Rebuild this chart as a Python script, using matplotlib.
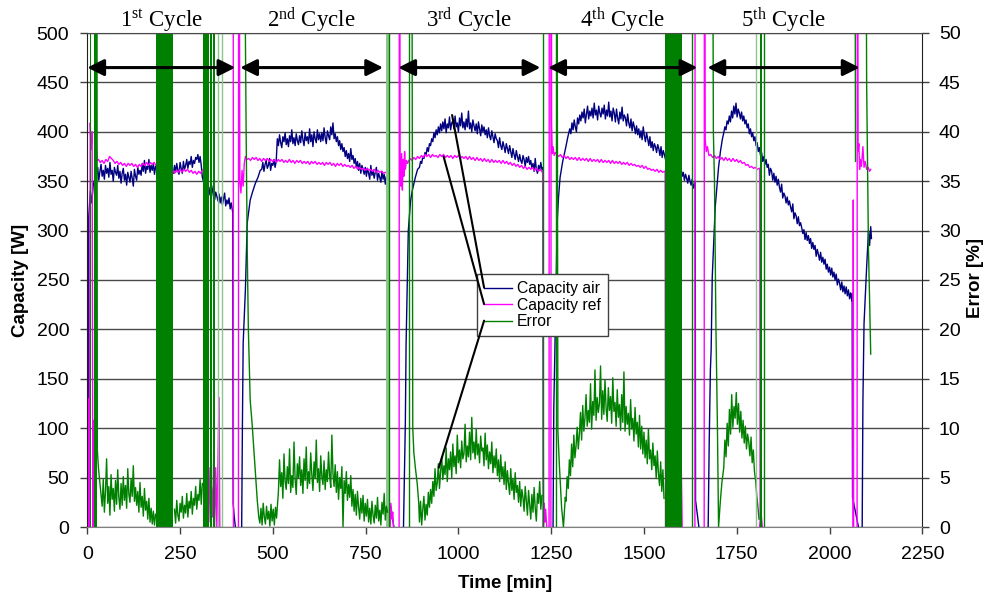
import numpy as np
import matplotlib
matplotlib.use("Agg")
import matplotlib.pyplot as plt

plt.rcParams['font.family'] = ['Liberation Sans', 'DejaVu Sans']
plt.rcParams['mathtext.fontset'] = 'custom'
plt.rcParams['mathtext.rm'] = 'Liberation Serif'
plt.rcParams['mathtext.it'] = 'Liberation Serif:italic'

# ---------------------------------------------------------------- data
# Capacity air [W]: transitions as explicit (time, value) samples,
# steady parts as values logged evenly between a start and end time.
air_t0 = [0, 2, 4, 8, 12, 16, 20]
air_v0 = [0, 55, 314, 340, 328, 346, 352]
air_c1 = [356, 364, 351, 360, 367, 355, 361, 352, 366, 358,
          363, 354, 369, 357, 361, 350, 364, 359, 356, 366,
          353, 360, 348, 358, 363, 351, 357, 346, 359, 354,
          349, 360, 353, 345, 362, 355, 351, 364, 357, 361,
          356, 368, 360, 371, 358, 365, 362, 372, 359, 366,
          361, 368, 357, 365, 362, 370, 358, 364, 367, 360,
          365, 357, 363, 368, 356, 362, 366, 355, 361, 358,
          366, 359, 368, 361, 357, 369, 363, 358, 370, 362,
          366, 372, 363, 370, 367, 375, 364, 371, 368, 374,
          372, 377, 369, 375, 366, 354, 350, 356, 345, 351,
          342, 336, 344, 333, 340, 346, 331, 339, 335, 330,
          337, 328, 334, 326, 332, 338, 325, 331, 327, 333,
          322, 328, 320]
air_t1 = [392, 393, 396, 399]
air_v1 = [318, 24, 10, 0]
air_t2 = [416, 418, 420, 426, 431, 439, 446, 453, 460, 466]
air_v2 = [0, 105, 186, 240, 308, 331, 340, 348, 354, 361]
air_c2 = [362, 369, 360, 367, 371, 363, 366, 373, 361, 368,
          366, 372, 364, 370,
          393, 386, 397, 389, 384, 395, 390, 399, 387, 393,
          385, 396, 390, 402, 388, 394, 386, 398, 391, 387,
          396, 389, 401, 392, 386, 399, 391, 395, 388, 403,
          390, 397, 385, 400, 393, 389, 402, 392, 398, 390,
          399, 391, 404, 394, 388, 401, 396, 392, 405, 397,
          409, 393, 398, 390, 395, 386, 391, 382, 388, 380,
          384, 375, 381, 373, 378, 370, 383, 372, 376, 368,
          373, 364, 370, 361, 368, 358, 366, 362, 357, 364,
          355, 363, 358, 352, 366, 356, 361, 353, 359, 364,
          351, 358, 354, 349, 360, 352, 357, 347, 355, 351]
air_t3 = [812, 813, 818, 823, 826]
air_v3 = [350, 24, 20, 8, 0]
air_t4 = [852, 854, 857, 859, 865, 871, 876, 884, 890]
air_v4 = [0, 44, 105, 185, 300, 330, 341, 354, 362]
air_c3 = [364, 370, 368, 375, 373, 379, 377, 384, 380, 388,
          386, 393, 390, 399, 394, 402, 397, 405, 399, 408,
          401, 410, 403, 413, 399, 408, 404, 415, 402, 409,
          411, 403, 416, 405, 409, 400, 414, 406, 419, 404,
          410, 402, 413, 405, 421, 403, 409, 400, 412, 406,
          401, 408, 398, 410, 403, 396, 407, 400, 405, 397,
          402, 394, 404, 396, 392, 401, 395, 389, 398, 393,
          391, 384, 394, 386, 382, 390, 385, 379, 388, 383,
          378, 386, 380, 374, 383, 377, 372, 381, 375, 370,
          377, 371, 368, 376, 372, 365, 374, 369, 375, 367,
          371, 363, 368, 360, 373, 362, 358, 366, 361, 369, 362]
air_t5 = [1228, 1229]
air_v5 = [364, 0]
air_t6 = [1255, 1257, 1260, 1264, 1266, 1270, 1274, 1281, 1288, 1295]
air_v6 = [0, 120, 179, 260, 308, 335, 354, 370, 382, 395]
air_c4 = [403, 398, 409, 402, 412, 405, 400, 414, 408, 417,
          411, 420, 414, 423, 409, 418, 426, 413, 421, 416,
          424, 414, 429, 417, 422, 412, 426, 419, 415, 424,
          418, 427, 413, 422, 416, 430, 415, 421, 411, 424,
          419, 410, 423, 414, 408, 420, 413, 425, 411, 417,
          414, 406, 418, 409, 404, 413, 401, 410, 405, 398,
          406, 397, 403, 394, 401, 392, 405, 396, 390, 399,
          393, 386, 395, 384, 390, 381, 388, 385, 379, 387,
          383, 376, 385, 374, 381, 377, 372, 380, 375, 369,
          374, 366, 371, 363, 369, 365, 360, 367, 362, 358,
          363, 355, 359, 351, 357, 353, 348, 356, 350, 346,
          352, 343]
air_t7 = [1638, 1639, 1644, 1648]
air_v7 = [350, 27, 12, 0]
air_t8 = [1673, 1676, 1679, 1681, 1684, 1692, 1701, 1706, 1711]
air_v8 = [0, 91, 159, 179, 253, 324, 364, 380, 392]
air_c5 = [399, 405, 402, 411, 408, 416, 410, 421, 414, 426,
          418, 429, 415, 423, 419, 413, 420, 411, 416, 408,
          412, 404, 408, 398, 403, 395, 399, 391, 395, 386,
          389, 380, 384, 376, 379, 370, 375, 367, 372, 364,
          367, 356, 363, 360, 351, 358, 349, 355, 346, 352,
          344, 339, 347, 333, 338, 335, 328, 334, 326, 330,
          324, 319, 327, 312, 318, 315, 307, 314, 305, 308,
          303, 297, 301, 291, 298, 290, 295, 287, 292, 282,
          288, 281, 285, 274, 281, 276, 270, 278, 268, 273,
          266, 271, 261, 266, 258, 263, 255, 262, 253, 258,
          250, 256, 245, 251, 247, 240, 248, 238, 244, 236,
          243, 234, 240, 231, 237, 229]
air_t9 = [2061, 2062, 2070, 2078]
air_v9 = [236, 30, 15, 0]
air_t10 = [2088, 2090, 2093, 2100, 2105, 2108, 2111, 2113]
air_v10 = [0, 128, 206, 263, 300, 285, 304, 292]

# Capacity ref [W]
ref_t0 = [0, 3, 5, 8, 10, 13, 15, 18, 21, 24, 27]
ref_v0 = [0, 130, 0, 409, 382, 400, 0, 108, 0, 385, 371]
ref_c1 = [372, 369, 371, 368, 372, 370, 375, 373, 371, 368, 370, 367, 369, 366, 368,
          365, 368, 366, 368, 365, 367, 364, 367, 365, 368, 366, 369, 366, 369, 367,
          369, 366, 367, 364, 365, 362, 363, 360, 362, 359, 361, 358, 361, 359, 362,
          359, 362, 360, 362, 359, 361, 358, 360, 357, 360, 358, 361, 363, 366]
ref_t1 = [323, 325, 328, 331, 334, 337, 340, 343, 346, 349, 353, 355, 357]
ref_v1 = [364, 0, 60, 5, 80, 10, 40, 0, 60, 0, 90, 131, 0]
ref_t2 = [393, 394]
ref_v2 = [900, -300]
ref_t3 = [407, 408, 411, 414, 417, 420, 423, 426, 430]
ref_v3 = [-300, 900, 350, 338, 361, 345, 368, 375, 372]
ref_c2 = [373, 371, 374, 372, 374, 371, 373, 370, 373, 371, 373, 370, 372, 370, 372,
          369, 372, 370, 372, 369, 371, 369, 372, 369, 371, 368, 371, 369, 371, 368,
          370, 368, 370, 367, 370, 368, 370, 367, 369, 367, 369, 366, 369, 367, 369,
          366, 368, 365, 368, 366, 368, 365, 367, 365, 366, 364, 366, 363, 365, 362,
          364, 362, 363, 361, 363, 361, 362, 360, 362, 359, 361, 359, 360, 358, 359, 358]
ref_t4 = [810, 812, 814]
ref_v4 = [358, -300, 900]
ref_t5 = [816, 818, 821, 823, 825]
ref_v5 = [0, 24, 8, 15, 0]
ref_t6 = [840, 841, 843, 845, 847, 849, 851, 853, 855, 857, 860, 863]
ref_v6 = [-300, 900, 360, 345, 378, 341, 372, 355, 380, 362, 371, 368]
ref_c3 = [370, 373, 371, 374, 372, 375, 373, 376, 374, 377, 375, 377, 374, 377, 375,
          376, 374, 377, 375, 377, 374, 376, 374, 376, 373, 376, 374, 376, 373, 375,
          373, 375, 372, 375, 372, 374, 371, 374, 371, 373, 370, 373, 370, 372, 369,
          372, 369, 371, 369, 371, 368, 371, 368, 370, 367, 369, 366, 368, 365, 367,
          364, 366, 363, 365, 362, 364, 362, 364, 361, 363, 360, 362, 360]
ref_t7 = [1227, 1228, 1229, 1231, 1233, 1235, 1238]
ref_v7 = [358, 331, 0, 24, 5, 18, 0]
ref_t8 = [1244, 1245]
ref_v8 = [-300, 900]
ref_t9 = [1249, 1250, 1251, 1253, 1255, 1258, 1261]
ref_v9 = [-300, 900, 409, 378, 385, 376, 379]
ref_c4 = [377, 375, 377, 374, 376, 373, 375, 372, 374, 372, 374, 371, 374, 371, 373,
          371, 373, 370, 373, 370, 372, 370, 372, 369, 372, 369, 371, 369, 371, 368,
          371, 368, 370, 368, 370, 367, 369, 367, 369, 366, 368, 366, 367, 365, 366,
          364, 366, 363, 365, 362, 363, 361, 362, 360, 362, 359, 361, 359, 360]
ref_t10 = [1557, 1558, 1565, 1570, 1585, 1590, 1600, 1603]
ref_v10 = [360, 0, 40, 0, 25, 0, 75, 0]
ref_t11 = [1637, 1638]
ref_v11 = [-300, 900]
ref_t12 = [1662, 1663, 1665, 1668, 1671, 1675]
ref_v12 = [-300, 900, 392, 380, 385, 376]
ref_c5 = [377, 374, 376, 373, 375, 372, 374, 371, 374, 371, 373, 370, 373, 370, 372,
          369, 371, 368, 369, 366, 367, 364, 365, 363, 364, 362, 363]
ref_t13 = [1812, 1813, 1816, 1819]
ref_v13 = [363, 0, 12, 0]
ref_t14 = [2063, 2064, 2065]
ref_v14 = [0, 331, 0]
ref_t15 = [2074, 2075, 2077, 2079, 2081, 2083, 2086, 2090, 2093, 2096, 2100, 2104, 2108, 2111]
ref_v15 = [-300, 900, 380, 388, 362, 372, 365, 385, 364, 370, 362, 364, 360, 362]

# Error [%]
err_t0 = [26, 27, 30, 35]
err_v0 = [60, 7.8, 6.0, 4.0]
err_c1 = [2.1, 4.8, 1.5, 3.6, 6.9, 2.4, 4.1, 1.2, 5.3, 2.8,
          3.9, 1.6, 4.7, 2.3, 5.8, 3.0, 1.8, 4.4, 2.2, 5.1,
          2.7, 4.2, 1.9, 5.9, 3.3, 2.5, 4.9, 3.1, 6.2, 2.6,
          4.0, 2.2, 3.6, 1.5, 4.5, 2.0, 3.1, 1.1, 3.9, 1.7,
          2.6, 0.8, 2.9, 0.5, 1.9, 0.3, 1.6, 0.2, 1.3]
err_c2 = [1.8, 0.4, 2.7, 1.2, 0.6, 2.4, 1.5, 3.1, 0.9, 2.2, 1.4, 3.4, 1.0,
          2.6, 1.9, 3.6, 1.3, 2.9, 2.2, 4.1, 1.8, 3.3, 2.7, 4.8, 2.3, 4.4]
err_t1 = [418, 425, 428, 431, 434, 437, 439, 444, 447, 453, 458, 462]
err_v1 = [80, 55, 40, 28, 20, 15.6, 12.8, 10.5, 8.8, 5.5, 2.7, 1.0]
err_c3 = [0.4, 1.9, 0.2, 2.4, 1.0, 0.3, 2.1, 0.8, 1.6, 0.1, 2.3, 0.6, 1.8, 0.2, 2.0, 0.9]
err_c4 = [3.6, 6.8, 4.1, 5.5, 2.9, 7.4, 4.6, 3.8, 6.1, 4.4,
          7.9, 3.5, 5.2, 4.0, 8.6, 4.8, 3.3, 6.4, 5.0, 7.1,
          4.2, 5.8, 3.4, 6.9, 4.7, 8.1, 3.9, 5.6, 4.4, 7.5,
          5.3, 3.7, 6.6, 4.9, 8.8, 4.5, 5.9, 3.6, 7.2, 5.1,
          4.3, 6.7, 3.8, 5.8, 4.6, 7.6, 5.2, 4.0, 9.3, 5.4,
          4.1, 6.3, 3.5, 5.6, 2.8, 5.0, 3.9, 6.1, 0.0, 4.7,
          3.4, 5.6, 2.7, 4.3, 3.0, 5.2, 2.1, 3.8, 1.6, 3.3,
          1.2, 3.6, 2.0, 0.8, 2.9, 1.4, 3.2, 0.6, 2.4, 1.1,
          2.8, 0.5, 1.9, 0.3, 2.6, 1.2, 0.4, 2.2, 0.9, 3.0,
          0.6, 1.7, 0.2, 2.5, 1.3, 3.4, 0.7, 2.1, 1.5]
err_t2 = [874, 877, 880, 884, 889, 893]
err_v2 = [80, 10, 7.5, 6.0, 4.4, 2.5]
err_c5 = [0.5, 2.6, 0.2, 1.8, 3.1, 0.7, 2.3, 1.2, 3.5, 2.0,
          3.8, 2.4, 4.6, 3.1, 5.9, 3.7, 4.5, 6.4, 3.9, 5.6,
          7.1, 4.8, 6.2, 5.3, 8.0, 4.6, 6.9, 5.8, 7.6, 5.0,
          8.4, 6.1, 7.2, 5.4, 9.3, 6.5, 7.8, 6.0, 8.7, 6.9,
          7.4, 10.4, 6.6, 8.2, 7.1, 9.6, 6.8, 11.1, 7.5, 8.6,
          6.9, 9.9, 7.3, 8.4, 6.5, 9.2, 7.7, 8.0, 6.2, 9.5,
          6.8, 8.3, 5.9, 7.6, 6.4, 8.6, 5.5, 7.2, 6.0, 7.9,
          5.2, 6.8, 4.6, 7.3, 5.0, 6.1, 4.3, 6.6, 3.8, 5.7,
          4.4, 3.3, 5.9, 3.7, 4.9, 2.8, 5.5, 3.5, 4.2, 2.5,
          4.6, 2.1, 3.8, 3.0, 1.6, 4.1, 2.6, 1.2, 3.7, 2.2,
          0.8, 3.3, 1.5, 4.0, 1.9, 0.6, 3.4, 2.4, 4.6, 1.8, 3.2]
err_t3 = [1266, 1268, 1272, 1278, 1283, 1288]
err_v3 = [60, 9.8, 6.3, 2.0, 0.0, 3.0]
err_c6 = [2.6, 5.1, 3.9, 6.8, 5.2, 8.4, 6.1, 9.3, 7.0, 8.2,
          10.1, 7.9, 9.4, 11.6, 8.8, 12.3, 9.7, 11.0, 13.4, 10.2,
          11.8, 10.6, 14.5, 9.9, 12.7, 11.3, 15.9, 10.8, 13.1, 11.6,
          12.5, 16.3, 10.9, 13.8, 11.4, 14.9, 12.0, 10.7, 14.1, 11.8,
          13.2, 10.5, 15.1, 11.7, 12.6, 10.2, 13.9, 11.1, 12.4, 9.8,
          13.4, 10.6, 15.7, 9.7, 12.2, 10.4, 11.5, 9.3, 12.9, 9.9,
          11.0, 8.7, 12.1, 9.4, 10.6, 8.1, 11.3, 7.9, 10.2, 7.4,
          9.6, 7.0, 8.8, 6.4, 9.9, 6.9, 7.8, 5.8, 8.5, 6.2,
          7.2, 4.9, 7.7, 5.4, 4.2, 6.6, 3.6, 5.8, 2.9]
err_t4 = [1684, 1687, 1690, 1694, 1698, 1701, 1706, 1710]
err_v4 = [80, 40, 35, 20, 10, 0.0, 2.7, 4.5]
err_c7 = [6.0, 8.8, 7.1, 10.5, 8.2, 11.9, 9.4, 13.4, 10.1, 12.2, 11.0, 13.6, 10.4,
          12.5, 9.6, 11.7, 9.0, 10.8, 8.5, 10.2, 7.9, 9.4, 8.6, 7.2, 9.1, 6.5, 7.8,
          5.6, 4.7, 3.2, 2.1, 0.8]
err_t5 = [2068, 2070]
err_v5 = [80, 37]
err_t6 = [2097, 2100, 2103, 2105, 2108, 2111]
err_v6 = [80, 45, 35, 28, 23, 17.5]

# periods where the error oscillates far off scale
err_burst_start = [1, 6, 17, 186, 312, 321, 330, 338, 1558, 1813]
err_burst_end = [3, 9, 26, 232, 319, 328, 335, 345, 1603, 1819]
err_spikes = [813, 866, 1229, 1264, 1630, 1824]
err_faint_spikes = [351, 363, 1802]
err_faint_band = (806, 817)

# test cycles
cycle_start = [0, 412, 838, 1242, 1671]
cycle_end = [399, 797, 1221, 1644, 2081]
cycle_num = ['1', '2', '3', '4', '5']
cycle_suffix = ['st', 'nd', 'rd', 'th', 'th']
arrow_level = 465  # W

series_names = ['Capacity air', 'Capacity ref', 'Error']


# ---------------------------------------------------------------- helpers
def logged(start, end, values):
    return np.linspace(start, end, len(values)), values


def assemble(pieces):
    ts, vs = [], []
    for p in pieces:
        if p is None:
            ts.append([np.nan])
            vs.append([np.nan])
        else:
            ts.append(np.asarray(p[0], float))
            vs.append(np.asarray(p[1], float))
    return np.concatenate(ts), np.concatenate(vs)


t_air, air = assemble([
    (air_t0, air_v0), logged(25, 391, air_c1), (air_t1, air_v1), None,
    (air_t2, air_v2), logged(470, 809, air_c2), (air_t3, air_v3), None,
    (air_t4, air_v4), logged(895, 1225, air_c3), (air_t5, air_v5), None,
    (air_t6, air_v6), logged(1300, 1633, air_c4), (air_t7, air_v7), None,
    (air_t8, air_v8), logged(1715, 2060, air_c5), (air_t9, air_v9), None,
    (air_t10, air_v10)])

t_ref, ref = assemble([
    (ref_t0, ref_v0), logged(30, 320, ref_c1), (ref_t1, ref_v1), None,
    (ref_t2, ref_v2), None,
    (ref_t3, ref_v3), logged(435, 808, ref_c2), (ref_t4, ref_v4), None,
    (ref_t5, ref_v5), None,
    (ref_t6, ref_v6), logged(865, 1225, ref_c3), (ref_t7, ref_v7), None,
    (ref_t8, ref_v8), None,
    (ref_t9, ref_v9), logged(1265, 1555, ref_c4), (ref_t10, ref_v10), None,
    (ref_t11, ref_v11), None,
    (ref_t12, ref_v12), logged(1680, 1810, ref_c5), (ref_t13, ref_v13), None,
    (ref_t14, ref_v14), None,
    (ref_t15, ref_v15)])

t_err, err = assemble([
    (err_t0, err_v0), logged(40, 184, err_c1), None,
    logged(235, 310, err_c2), None,
    (err_t1, err_v1), logged(465, 510, err_c3), logged(515, 809, err_c4), None,
    (err_t2, err_v2), logged(895, 1225, err_c5), None,
    (err_t3, err_v3), logged(1290, 1554, err_c6), None,
    (err_t4, err_v4), logged(1715, 1810, err_c7), None,
    (err_t5, err_v5), None,
    (err_t6, err_v6)])

# ---------------------------------------------------------------- figure
NAVY = '#000080'
MAGENTA = '#FF00FF'
GREEN = '#008000'
LIGHT_GREEN = '#8cc68c'
GRID = '#4a4a4a'

fig = plt.figure(figsize=(9.89, 5.98), dpi=100)
ax = fig.add_axes([87.3 / 989, 1 - 527 / 598, 835 / 989, 494 / 598])
ax2 = ax.twinx()

ax.set_xlim(0, 2250)
ax.set_ylim(0, 500)
ax2.set_ylim(0, 50)
ax.set_xticks(np.arange(0, 2251, 250))
ax.set_yticks(np.arange(0, 501, 50))
ax2.set_yticks(np.arange(0, 51, 5))

ax.yaxis.grid(True, color=GRID, lw=1.0)
ax.set_axisbelow(True)

l_air, = ax.plot(t_air, air, color=NAVY, lw=1.0, label=series_names[0])
l_ref, = ax.plot(t_ref, ref, color=MAGENTA, lw=1.0, label=series_names[1])
l_err, = ax2.plot(t_err, err, color=GREEN, lw=1.0, label=series_names[2])

for s, e in zip(err_burst_start, err_burst_end):
    ax2.axvspan(s, e, color=GREEN, lw=0)
ax2.axvspan(*err_faint_band, color=LIGHT_GREEN, lw=0)
ax2.vlines(err_spikes, 0, 50, color=GREEN, lw=1.0)
ax2.vlines(err_faint_spikes, 0, 50, color=LIGHT_GREEN, lw=1.0)

# spines and ticks
for a in (ax, ax2):
    for side in ('left', 'right', 'top', 'bottom'):
        a.spines[side].set_visible(False)
for side in ('left', 'right', 'top', 'bottom'):
    ax2.spines[side].set_visible(True)
ax2.spines['left'].set_color('#202020')
ax2.spines['right'].set_color('#202020')
ax2.spines['bottom'].set_color('#808080')
ax2.spines['top'].set_color(GRID)

ax.tick_params(axis='both', labelsize=14, length=5, width=1, color='#404040')
ax.tick_params(axis='y', pad=8)
ax.tick_params(axis='x', pad=9)
ax2.tick_params(axis='y', labelsize=14, length=5, width=1, color='#404040', pad=7)

fig.text(21 / 989, 1 - 280 / 598, 'Capacity [W]', rotation=90, ha='center',
         va='center', fontsize=13.5, fontweight='bold')
fig.text(975 / 989, 1 - 278 / 598, 'Error [%]', rotation=90, ha='center',
         va='center', fontsize=13.5, fontweight='bold')
fig.text(504.6 / 989, 1 - 583 / 598, 'Time [min]', ha='center', va='center',
         fontsize=13.5, fontweight='bold')

# cycle arrows and labels
level = arrow_level / 10.0
for s, e, n, suf in zip(cycle_start, cycle_end, cycle_num, cycle_suffix):
    ax2.annotate('', xy=(e, level), xytext=(s, level),
                 arrowprops=dict(arrowstyle='<|-|>', color='black', lw=2.2,
                                 mutation_scale=25, shrinkA=0, shrinkB=0),
                 zorder=6)
    ax2.text((s + e) / 2, 1.012, n + r'$^{\rm ' + suf + r'}$ Cycle',
             transform=ax2.get_xaxis_transform(), ha='center', va='baseline',
             fontsize=16.5, family='Liberation Serif')

# legend with leader lines to the curves
leg = ax2.legend(handles=[l_air, l_ref, l_err], loc='upper left',
                 bbox_to_anchor=(477 / 989, 1 - 274 / 598),
                 bbox_transform=fig.transFigure, borderaxespad=0,
                 fontsize=11.3, frameon=True, fancybox=False,
                 edgecolor='#404040', framealpha=1.0, handlelength=1.8,
                 handletextpad=0.3, labelspacing=0.1, borderpad=0.45)
leg.get_frame().set_linewidth(1.0)
leg.set_zorder(10)

fig.canvas.draw()
renderer = fig.canvas.get_renderer()
to_fig = fig.transFigure.inverted()
targets = [(ax.transData, (983, 417)), (ax.transData, (960, 375)),
           (ax2.transData, (947, 6.0))]
for hl, (trans, pt) in zip(leg.get_lines(), targets):
    bb = hl.get_window_extent(renderer)
    fx, fy = to_fig.transform((bb.x0, (bb.y0 + bb.y1) / 2))
    ax2.annotate('', xy=pt, xycoords=trans, xytext=(fx, fy),
                 textcoords='figure fraction',
                 arrowprops=dict(arrowstyle='-', color='black', lw=1.5,
                                 shrinkA=0, shrinkB=0), zorder=11)

fig.savefig('out.png', dpi=100)
